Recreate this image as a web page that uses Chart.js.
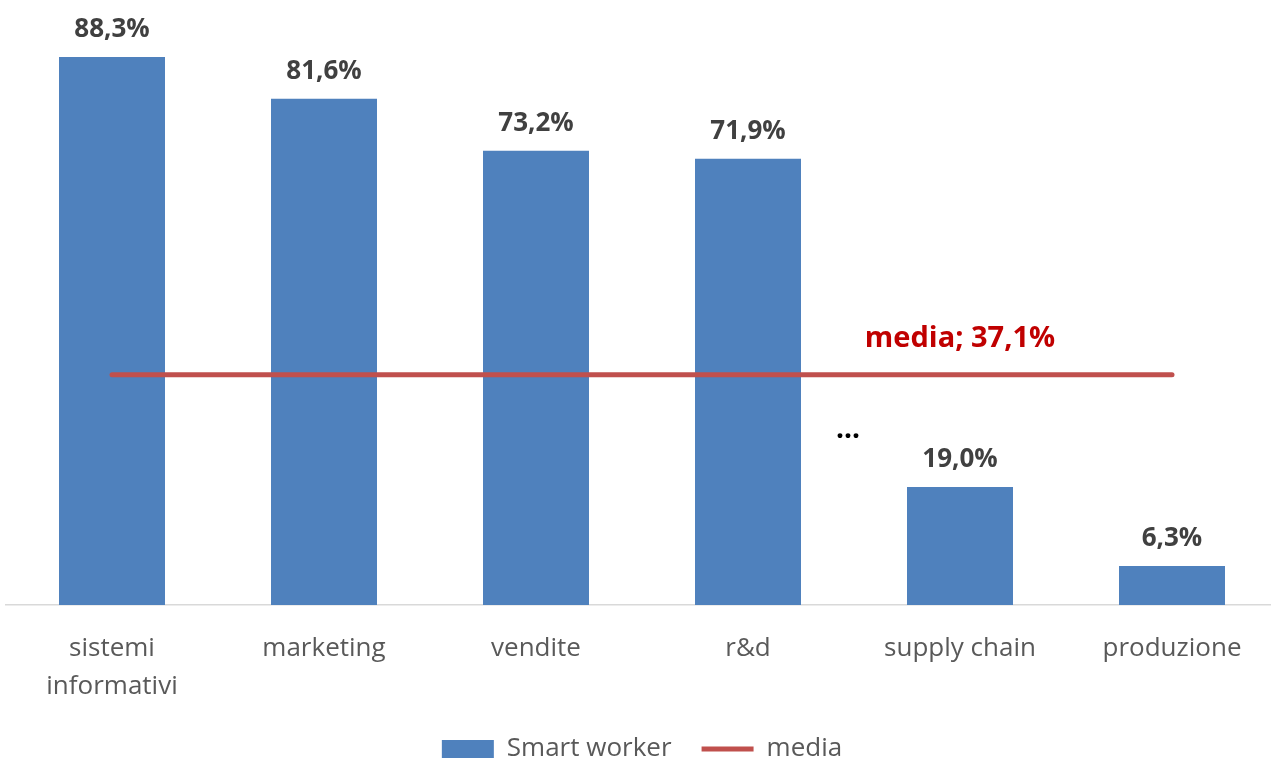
<!DOCTYPE html>
<html>
<head>
<meta charset="utf-8">
<script src="https://cdn.jsdelivr.net/npm/chart.js@4.4.0/dist/chart.umd.min.js"></script>
<style>
  html, body { margin: 0; padding: 0; background: #fff; overflow: hidden; }
  #wrap { position: relative; width: 1278px; height: 760px; }
</style>
</head>
<body>
<div id="wrap"><canvas id="chart"></canvas></div>
<script>
const categories = [['sistemi', 'informativi'], 'marketing', 'vendite', 'r&d', 'supply chain', 'produzione'];
const smartWorker = [88.3, 81.6, 73.2, 71.9, 19.0, 6.3];
const media = [37.1, 37.1, 37.1, 37.1, 37.1, 37.1];
const mediaLabelIndex = 4;
const gapMarkerValue = 27.6;

const FONT = "'Open Sans', sans-serif";

function fmt(v) {
    return v.toFixed(1).replace('.', ',') + '%';
}

const labelsPlugin = {
    id: 'valueLabels',
    afterDatasetsDraw(chart) {
        const ctx = chart.ctx;
        ctx.save();
        ctx.textAlign = 'center';
        ctx.textBaseline = 'alphabetic';

        // bar values
        ctx.font = 'bold 26px ' + FONT;
        ctx.fillStyle = '#404040';
        chart.getDatasetMeta(0).data.forEach((bar, i) => {
            ctx.fillText(fmt(smartWorker[i]), bar.x, bar.y - 20);
        });

        // media label
        const pt = chart.getDatasetMeta(1).data[mediaLabelIndex];
        ctx.font = 'bold 29px ' + FONT;
        ctx.fillStyle = '#C00000';
        ctx.fillText('media; ' + fmt(media[mediaLabelIndex]), pt.x, pt.y - 28);

        // "..." between r&d and supply chain
        const bars = chart.getDatasetMeta(0).data;
        const xs = (bars[3].x + bars[4].x) / 2 - 6;
        ctx.font = 'bold 28px ' + FONT;
        ctx.fillStyle = '#000';
        ctx.fillText('...', xs, chart.scales.y.getPixelForValue(gapMarkerValue) + 4);
        ctx.restore();
    }
};

new Chart(document.getElementById('chart'), {
    data: {
        labels: categories,
        datasets: [{
            type: 'bar',
            label: 'Smart worker',
            data: smartWorker,
            backgroundColor: '#4F81BD',
            barPercentage: 0.5,
            categoryPercentage: 1.0,
            pointStyle: 'rect',
            order: 2
        }, {
            type: 'line',
            label: 'media',
            data: media,
            borderColor: '#C0504D',
            backgroundColor: '#C0504D',
            borderWidth: 5,
            borderCapStyle: 'round',
            pointRadius: 0,
            pointStyle: 'line',
            order: 1
        }]
    },
    options: {
        responsive: true,
        maintainAspectRatio: false,
        animation: false,
        layout: { padding: { left: 6, right: 0, top: 0, bottom: -12 } },
        scales: {
            x: {
                grid: { display: false },
                border: { color: '#D9D9D9', width: 1.5 },
                ticks: { color: '#595959', font: { family: FONT, size: 26, lineHeight: 1.48 }, padding: 16, maxRotation: 0 },
                afterFit(scale) { scale.height = 101; }
            },
            y: { display: false, min: 0, max: 97.5 }
        },
        plugins: {
            legend: {
                position: 'bottom',
                labels: {
                    usePointStyle: true,
                    pointStyleWidth: 52,
                    boxWidth: 52,
                    boxHeight: 18,
                    color: '#595959',
                    font: { family: FONT, size: 26 },
                    padding: 30,
                    sort: (a, b) => a.datasetIndex - b.datasetIndex
                }
            },
            tooltip: { enabled: false }
        }
    },
    plugins: [labelsPlugin]
});
</script>
</body>
</html>
